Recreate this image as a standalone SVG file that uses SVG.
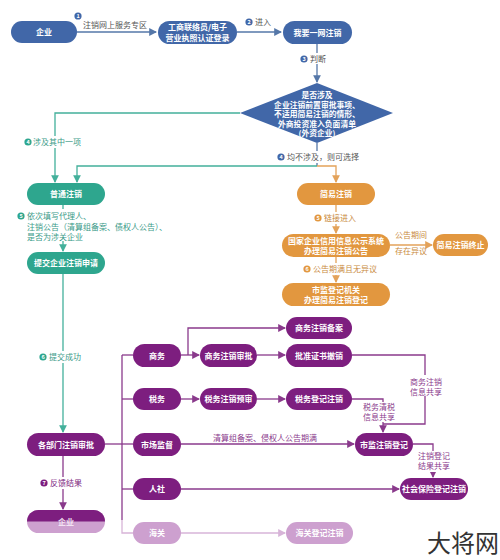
<svg xmlns="http://www.w3.org/2000/svg" width="500" height="560" viewBox="0 0 500 560">
<style>
text{font-family:"Noto Sans CJK SC","Noto Sans",sans-serif;}
.nt{font-size:8px;font-weight:bold;fill:#fff;text-anchor:middle;}
.dt{font-size:7.8px;font-weight:bold;fill:#fff;text-anchor:middle;}
.lb{font-size:8px;}
.bn{font-size:5.5px;font-weight:bold;fill:#fff;text-anchor:middle;}
.blue{fill:#4167a8;}
.teal{fill:#2ea68e;}
.orange{fill:#e2973f;}
.purple{fill:#7d1e7f;}
.lpurple{fill:#cda0cf;}
.lblue{stroke:#5577a8;stroke-width:1.3;fill:none;}
.lteal{stroke:#43b09b;stroke-width:1.3;fill:none;}
.lorange{stroke:#e3a25a;stroke-width:1.3;fill:none;}
.lpur{stroke:#8a3a8c;stroke-width:1.3;fill:none;}
.llp{stroke:#d7b4d8;stroke-width:1.3;fill:none;}
</style>
<defs>
<marker id="ab" viewBox="0 0 8 8" refX="7" refY="4" markerWidth="6" markerHeight="6" orient="auto"><path d="M0,0L8,4L0,8z" fill="#5577a8"/></marker>
<marker id="at" viewBox="0 0 8 8" refX="7" refY="4" markerWidth="6" markerHeight="6" orient="auto"><path d="M0,0L8,4L0,8z" fill="#43b09b"/></marker>
<marker id="ao" viewBox="0 0 8 8" refX="7" refY="4" markerWidth="6" markerHeight="6" orient="auto"><path d="M0,0L8,4L0,8z" fill="#e3a25a"/></marker>
<marker id="ap" viewBox="0 0 8 8" refX="7" refY="4" markerWidth="6" markerHeight="6" orient="auto"><path d="M0,0L8,4L0,8z" fill="#8a3a8c"/></marker>
<marker id="al" viewBox="0 0 8 8" refX="7" refY="4" markerWidth="6" markerHeight="6" orient="auto"><path d="M0,0L8,4L0,8z" fill="#d7b4d8"/></marker>
</defs>
<rect width="500" height="560" fill="#fff"/>

<g id="connectors">
  <path class="lblue" d="M77,32H156" marker-end="url(#ab)"/>
  <path class="lblue" d="M237,32H281" marker-end="url(#ab)"/>
  <path class="lblue" d="M317,44V82" marker-end="url(#ab)"/>
  <path class="lteal" d="M240,113H55V182" marker-end="url(#at)"/>
  <path class="lblue" d="M317,143V166"/>
  <path class="lteal" d="M317,166H77V182" marker-end="url(#at)"/>
  <path class="lorange" d="M317,166H336V182" marker-end="url(#ao)"/>
  <path class="lteal" d="M63,205V251" marker-end="url(#at)"/>
  <path class="lteal" d="M63,274V432" marker-end="url(#at)"/>
  <path class="lpur" d="M63,456V509" marker-end="url(#ap)"/>
  <path class="lorange" d="M336,205V233" marker-end="url(#ao)"/>
  <path class="lorange" d="M390,245H432" marker-end="url(#ao)"/>
  <path class="lorange" d="M336,257V282" marker-end="url(#ao)"/>
  <path class="lpur" d="M105,444H122"/>
  <path class="lpur" d="M122,355V520"/>
  <path class="llp" d="M122,520V533H133"/>
  <path class="lpur" d="M122,355H133"/>
  <path class="lpur" d="M122,399H133"/>
  <path class="lpur" d="M122,444H133"/>
  <path class="lpur" d="M122,489H133"/>
  <path class="lpur" d="M181,355H199" marker-end="url(#ap)"/>
  <path class="lpur" d="M188,355V328H285" marker-end="url(#ap)"/>
  <path class="lpur" d="M257,355H285" marker-end="url(#ap)"/>
  <path class="lpur" d="M181,399H199" marker-end="url(#ap)"/>
  <path class="lpur" d="M257,399H285" marker-end="url(#ap)"/>
  <path class="lpur" d="M352,355H425V424H383"/>
  <path class="lpur" d="M352,399H383V432" marker-end="url(#ap)"/>
  <path class="lpur" d="M181,444H354" marker-end="url(#ap)"/>
  <path class="lpur" d="M413,444H433V477" marker-end="url(#ap)"/>
  <path class="lpur" d="M181,489H399" marker-end="url(#ap)"/>
  <path class="llp" d="M181,533H285" marker-end="url(#al)"/>
</g>

<g id="labels">
  <circle cx="78" cy="16" r="3.6" fill="#4167a8"/><text class="bn" x="78" y="18">1</text>
  <text class="lb" x="83" y="28" fill="#555">注销网上服务专区</text>
  <circle cx="249" cy="22" r="3.6" fill="#4167a8"/><text class="bn" x="249" y="24">2</text>
  <text class="lb" x="255" y="25" fill="#555">进入</text>
  <rect x="300" y="53" width="30" height="11" fill="#fff"/>
  <circle cx="304" cy="59" r="3.6" fill="#4167a8"/><text class="bn" x="304" y="61">3</text>
  <text class="lb" x="310" y="62" fill="#555">判断</text>

  <rect x="23" y="136" width="60" height="12" fill="#fff"/>
  <circle cx="28" cy="142" r="3.6" fill="#2ea68e"/><text class="bn" x="28" y="144">4</text>
  <text class="lb" x="33" y="145" fill="#3a9a88">涉及其中一项</text>
  <rect x="275" y="151" width="87" height="12" fill="#fff"/>
  <circle cx="281" cy="157" r="3.6" fill="#4167a8"/><text class="bn" x="281" y="159">4</text>
  <text class="lb" x="287" y="160" fill="#555">均不涉及，则可选择</text>

  <rect x="17" y="209" width="175" height="32" fill="#fff"/>
  <circle cx="21" cy="216" r="3.6" fill="#2ea68e"/><text class="bn" x="21" y="218">5</text>
  <text class="lb" x="27" y="219" fill="#3a9a88">依次填写代理人、</text>
  <text class="lb" x="27" y="230" fill="#3a9a88">注销公告（清算组备案、债权人公告）、</text>
  <text class="lb" x="27" y="240" fill="#3a9a88">是否为涉关企业</text>

  <rect x="37" y="351" width="47" height="12" fill="#fff"/>
  <circle cx="43" cy="357" r="3.6" fill="#2ea68e"/><text class="bn" x="43" y="359">6</text>
  <text class="lb" x="49" y="360" fill="#3a9a88">提交成功</text>

  <rect x="38" y="477" width="46" height="12" fill="#fff"/>
  <circle cx="44" cy="483" r="3.6" fill="#7d1e7f"/><text class="bn" x="44" y="485">7</text>
  <text class="lb" x="50" y="486" fill="#7d1e7f">反馈结果</text>

  <rect x="312" y="212" width="46" height="12" fill="#fff"/>
  <circle cx="318" cy="218" r="3.6" fill="#e2973f"/><text class="bn" x="318" y="220">5</text>
  <text class="lb" x="324" y="221" fill="#c98a3e">链接进入</text>
  <text class="lb" x="411" y="238" fill="#c98a3e" text-anchor="middle">公告期间</text>
  <text class="lb" x="411" y="254" fill="#c98a3e" text-anchor="middle">存在异议</text>
  <rect x="301" y="263" width="77" height="12" fill="#fff"/>
  <circle cx="307" cy="269" r="3.6" fill="#e2973f"/><text class="bn" x="307" y="271">6</text>
  <text class="lb" x="313" y="272" fill="#c98a3e">公告期满且无异议</text>

  <rect x="409" y="375" width="34" height="21" fill="#fff"/>
  <text class="lb" x="426" y="385" fill="#8a3a8c" text-anchor="middle">商务注销</text>
  <text class="lb" x="426" y="395" fill="#8a3a8c" text-anchor="middle">信息共享</text>
  <rect x="362" y="402" width="34" height="20" fill="#fff"/>
  <text class="lb" x="379" y="410" fill="#8a3a8c" text-anchor="middle">税务清税</text>
  <text class="lb" x="379" y="420" fill="#8a3a8c" text-anchor="middle">信息共享</text>
  <text class="lb" x="265" y="441" fill="#8a3a8c" text-anchor="middle">清算组备案、侵权人公告期满</text>
  <rect x="417" y="451" width="34" height="21" fill="#fff"/>
  <text class="lb" x="434" y="459" fill="#8a3a8c" text-anchor="middle">注销登记</text>
  <text class="lb" x="434" y="469" fill="#8a3a8c" text-anchor="middle">结果共享</text>
</g>

<g id="n-qiye-top"><rect class="blue" x="11" y="21" width="66" height="22" rx="11"/><text class="nt" x="44" y="35">企业</text></g>
<g id="n-gongshang"><rect class="blue" x="158" y="21" width="79" height="23" rx="11.5"/><text class="nt" x="197.5" y="30">工商联络员/电子</text><text class="nt" x="197.5" y="40.5">营业执照认证登录</text></g>
<g id="n-woyao"><rect class="blue" x="283" y="21" width="69" height="23" rx="11.5"/><text class="nt" x="317.5" y="35.5">我要一网注销</text></g>
<g id="n-diamond"><path class="blue" d="M317,83L393,113L317,143L240,113z"/>
  <text class="dt" x="317" y="98">是否涉及</text>
  <text class="dt" x="317" y="107.5">企业注销前置审批事项、</text>
  <text class="dt" x="317" y="117">不适用简易注销的情形、</text>
  <text class="dt" x="317" y="126.5">外商投资准入负面清单</text>
  <text class="dt" x="317" y="136">(外资企业)</text>
</g>
<g id="n-putong"><rect class="teal" x="27" y="183" width="78" height="22" rx="11"/><text class="nt" x="66" y="197">普通注销</text></g>
<g id="n-tijiao"><rect class="teal" x="27" y="252" width="78" height="22" rx="11"/><text class="nt" x="66" y="266">提交企业注销申请</text></g>
<g id="n-jianyi"><rect class="orange" x="297" y="183" width="78" height="22" rx="11"/><text class="nt" x="336" y="197">简易注销</text></g>
<g id="n-gongshi"><rect class="orange" x="282" y="234" width="108" height="23" rx="11.5"/><text class="nt" x="336" y="243.5">国家企业信用信息公示系统</text><text class="nt" x="336" y="253.5">办理简易注销公告</text></g>
<g id="n-zhongzhi"><rect class="orange" x="433" y="234" width="55" height="22" rx="11"/><text class="nt" x="460.5" y="248">简易注销终止</text></g>
<g id="n-shijian"><rect class="orange" x="282" y="283" width="108" height="23" rx="11.5"/><text class="nt" x="336" y="292.5">市监登记机关</text><text class="nt" x="336" y="302.5">办理简易注销登记</text></g>
<g id="n-gebumen"><rect class="purple" x="27" y="433" width="78" height="23" rx="11.5"/><text class="nt" x="66" y="447.5">各部门注销审批</text></g>
<g id="n-qiye-bottom"><rect class="lpurple" x="27" y="510" width="78" height="23" rx="11.5"/><path class="purple" d="M38.5,510H93.5A11.5,11.5 0 0 1 105,521.5H27A11.5,11.5 0 0 1 38.5,510z"/><text class="nt" x="66" y="524.5" style="fill:#f3e3f3">企业</text></g>
<g id="n-shangwu"><rect class="purple" x="133" y="344" width="48" height="23" rx="11.5"/><text class="nt" x="157" y="358.5">商务</text></g>
<g id="n-shuiwu"><rect class="purple" x="133" y="388" width="48" height="22" rx="11"/><text class="nt" x="157" y="402">税务</text></g>
<g id="n-shichang"><rect class="purple" x="133" y="433" width="48" height="23" rx="11.5"/><text class="nt" x="157" y="447.5">市场监督</text></g>
<g id="n-renshe"><rect class="purple" x="133" y="478" width="48" height="22" rx="11"/><text class="nt" x="157" y="492">人社</text></g>
<g id="n-haiguan"><rect class="lpurple" x="133" y="522" width="48" height="22" rx="11"/><text class="nt" x="157" y="536">海关</text></g>
<g id="n-swsp"><rect class="purple" x="200" y="344" width="57" height="23" rx="11.5"/><text class="nt" x="228.5" y="358.5">商务注销审批</text></g>
<g id="n-swba"><rect class="purple" x="286" y="317" width="66" height="22" rx="11"/><text class="nt" x="319" y="331">商务注销备案</text></g>
<g id="n-pzzs"><rect class="purple" x="286" y="344" width="66" height="23" rx="11.5"/><text class="nt" x="319" y="358.5">批准证书撤销</text></g>
<g id="n-swys"><rect class="purple" x="200" y="388" width="57" height="22" rx="11"/><text class="nt" x="228.5" y="402">税务注销预审</text></g>
<g id="n-swdj"><rect class="purple" x="286" y="388" width="66" height="22" rx="11"/><text class="nt" x="319" y="402">税务登记注销</text></g>
<g id="n-sjzx"><rect class="purple" x="355" y="433" width="58" height="23" rx="11.5"/><text class="nt" x="384" y="447.5">市监注销登记</text></g>
<g id="n-shebao"><rect class="purple" x="400" y="478" width="68" height="22" rx="11"/><text class="nt" x="434" y="492">社会保险登记注销</text></g>
<g id="n-hgdj"><rect class="lpurple" x="286" y="522" width="67" height="22" rx="11"/><text class="nt" x="319.5" y="536">海关登记注销</text></g>

<text x="427" y="552" style="font-size:24px;fill:#333;">大将网</text>
</svg>
